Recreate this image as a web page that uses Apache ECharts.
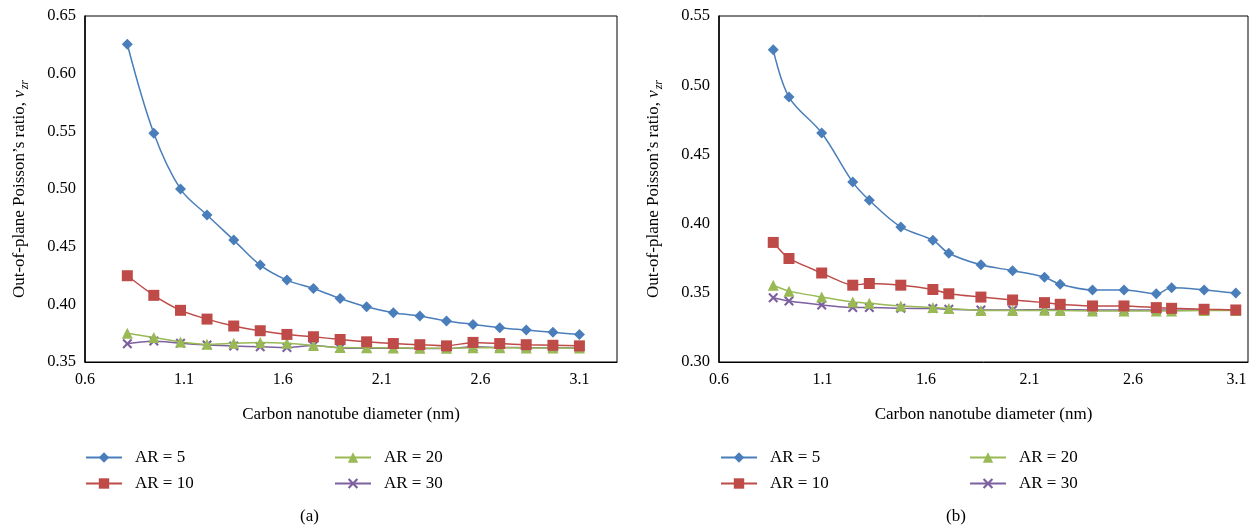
<!DOCTYPE html>
<html>
<head>
<meta charset="utf-8">
<script src="https://cdn.jsdelivr.net/npm/echarts@6/dist/echarts.min.js"></script>
<style>
  html, body { margin: 0; padding: 0; background: #fff; }
  #chart { width: 1257px; height: 532px; }
</style>
</head>
<body>
<div id="chart"></div>
<script>
// ---- Data ----
// Panel (a)
const diamA = [0.814, 0.948, 1.083, 1.217, 1.352, 1.486, 1.621, 1.755, 1.890, 2.024, 2.159, 2.293, 2.428, 2.562, 2.697, 2.831, 2.966, 3.100];
const a_AR5  = [0.6255, 0.5483, 0.4999, 0.4774, 0.4557, 0.4340, 0.4210, 0.4138, 0.4051, 0.3979, 0.3927, 0.3898, 0.3855, 0.3826, 0.3797, 0.3777, 0.3757, 0.3739];
const a_AR10 = [0.4248, 0.4078, 0.3948, 0.3872, 0.3812, 0.3771, 0.3739, 0.3719, 0.3695, 0.3675, 0.3660, 0.3650, 0.3640, 0.3670, 0.3660, 0.3650, 0.3645, 0.3640];
const a_AR20 = [0.3750, 0.3712, 0.3674, 0.3653, 0.3662, 0.3668, 0.3662, 0.3644, 0.3625, 0.3624, 0.3622, 0.3620, 0.3620, 0.3624, 0.3624, 0.3622, 0.3622, 0.3622];
const a_AR30 = [0.3659, 0.3682, 0.3662, 0.3647, 0.3638, 0.3632, 0.3626, 0.3644, 0.3622, 0.3620, 0.3619, 0.3618, 0.3617, 0.3632, 0.3626, 0.3624, 0.3623, 0.3622];
// Panel (b)
const diamB = [0.862, 0.938, 1.096, 1.246, 1.326, 1.478, 1.633, 1.710, 1.865, 2.018, 2.172, 2.248, 2.404, 2.556, 2.712, 2.786, 2.943, 3.096];
const b_AR5  = [0.5257, 0.4914, 0.4655, 0.4300, 0.4169, 0.3976, 0.3880, 0.3786, 0.3702, 0.3660, 0.3612, 0.3562, 0.3521, 0.3521, 0.3493, 0.3536, 0.3521, 0.3498];
const b_AR10 = [0.3864, 0.3748, 0.3643, 0.3555, 0.3567, 0.3555, 0.3524, 0.3493, 0.3469, 0.3448, 0.3429, 0.3417, 0.3405, 0.3405, 0.3393, 0.3388, 0.3381, 0.3376];
const b_AR20 = [0.3555, 0.3512, 0.3469, 0.3433, 0.3424, 0.3405, 0.3393, 0.3386, 0.3372, 0.3372, 0.3374, 0.3372, 0.3369, 0.3369, 0.3368, 0.3369, 0.3372, 0.3372];
const b_AR30 = [0.3464, 0.3440, 0.3412, 0.3393, 0.3393, 0.3388, 0.3386, 0.3381, 0.3376, 0.3376, 0.3380, 0.3378, 0.3376, 0.3376, 0.3376, 0.3374, 0.3376, 0.3376];

const seriesNames = ['AR = 5', 'AR = 10', 'AR = 20', 'AR = 30'];
const yTicksA = [0.35, 0.65, 0.05];
const yTicksB = [0.30, 0.55, 0.05];
const xTickStart = 0.6, xTickStep = 0.5;
const xLabel = 'Carbon nanotube diameter (nm)';
const captions = ['(a)', '(b)'];

// ---- Styling ----
const FONT = '"Liberation Serif", "DejaVu Serif", serif';
const colors = ['#4A7EBB', '#BE4B48', '#98B954', '#7D60A0'];
const xSym = 'path://M1.5,0 L5,3.5 L8.5,0 L10,1.5 L6.5,5 L10,8.5 L8.5,10 L5,6.5 L1.5,10 L0,8.5 L3.5,5 L0,1.5 Z';
const symbols = ['diamond', 'rect', 'triangle', xSym];
const symSizes = [11, 11, 11, 10];

function zip(xs, ys) { return xs.map((x, i) => [x, ys[i]]); }

function makeX(idx, max) {
  return {
    type: 'value', gridIndex: idx, min: xTickStart, max: max, interval: 0.1,
    name: xLabel, nameLocation: 'middle', nameGap: 44,
    nameTextStyle: { fontFamily: FONT, fontSize: 17, color: '#000' },
    axisLine: { show: true, lineStyle: { color: '#000', width: 1 } },
    axisTick: { show: false },
    splitLine: { show: false },
    axisLabel: {
      fontFamily: FONT, fontSize: 16, color: '#000', margin: 10,
      showMaxLabel: false,
      formatter: function (v) {
        const k = (v - xTickStart) / xTickStep;
        return Math.abs(k - Math.round(k)) < 1e-6 ? v.toFixed(1) : '';
      }
    }
  };
}
function makeY(idx, t) {
  return {
    type: 'value', gridIndex: idx, min: t[0], max: t[1], interval: t[2],
    name: '{t|Out-of-plane Poisson\u2019s ratio, }{v|\u03BD}{s|zr}',
    nameLocation: 'middle', nameRotate: 90, nameGap: 54,
    nameTextStyle: {
      fontFamily: FONT, fontSize: 17, color: '#000',
      rich: {
        t: { fontFamily: FONT, fontSize: 17, color: '#000', lineHeight: 22, verticalAlign: 'middle' },
        v: { fontFamily: FONT, fontSize: 17, color: '#000', fontStyle: 'italic', lineHeight: 22, verticalAlign: 'middle' },
        s: { fontFamily: FONT, fontSize: 12, color: '#000', fontStyle: 'italic', lineHeight: 22, verticalAlign: 'bottom', padding: [0, 0, 0, 1] }
      }
    },
    axisLine: { show: true, lineStyle: { color: '#000', width: 1.5 } },
    axisTick: { show: false },
    splitLine: { show: false },
    axisLabel: { fontFamily: FONT, fontSize: 16.5, color: '#000', margin: 9, formatter: v => v.toFixed(2) }
  };
}
function makeSeries(idx, xs, arrs) {
  return arrs.map((ys, i) => ({
    name: seriesNames[i], type: 'line', xAxisIndex: idx, yAxisIndex: idx,
    data: zip(xs, ys), smooth: i === 0 ? 0.35 : 0.2,
    symbol: symbols[i], symbolSize: symSizes[i],
    lineStyle: { color: colors[i], width: 1.5 },
    itemStyle: { color: colors[i] },
    z: 10 - i, animation: false
  }));
}
function makeLegend(left, names) {
  return {
    left: left, top: 449, orient: 'vertical', padding: 0, itemGap: 9, itemWidth: 36, itemHeight: 13,
    data: names,
    textStyle: { fontFamily: FONT, fontSize: 17, color: '#000', padding: [0, 0, 0, 8] }
  };
}

const option = {
  backgroundColor: '#fff',
  animation: false,
  grid: [
    { left: 85, top: 16, right: 640, bottom: 170, show: true, borderColor: '#000', borderWidth: 1 },
    { left: 719, top: 16, right: 9, bottom: 170, show: true, borderColor: '#000', borderWidth: 1 }
  ],
  xAxis: [makeX(0, 3.29), makeX(1, 3.155)],
  yAxis: [makeY(0, yTicksA), makeY(1, yTicksB)],
  legend: [
    makeLegend(85, ['AR = 5', 'AR = 10']),
    makeLegend(334, ['AR = 20', 'AR = 30']),
    makeLegend(720, ['AR = 5', 'AR = 10']),
    makeLegend(969, ['AR = 20', 'AR = 30'])
  ],
  graphic: [
    { type: 'text', left: 300, top: 508, style: { text: captions[0], font: '17px ' + FONT, fill: '#000' } },
    { type: 'text', left: 946, top: 508, style: { text: captions[1], font: '17px ' + FONT, fill: '#000' } }
  ],
  series: [].concat(
    makeSeries(0, diamA, [a_AR5, a_AR10, a_AR20, a_AR30]),
    makeSeries(1, diamB, [b_AR5, b_AR10, b_AR20, b_AR30])
  )
};

const chart = echarts.init(document.getElementById('chart'), null, { renderer: 'canvas' });
chart.setOption(option);
</script>
</body>
</html>
